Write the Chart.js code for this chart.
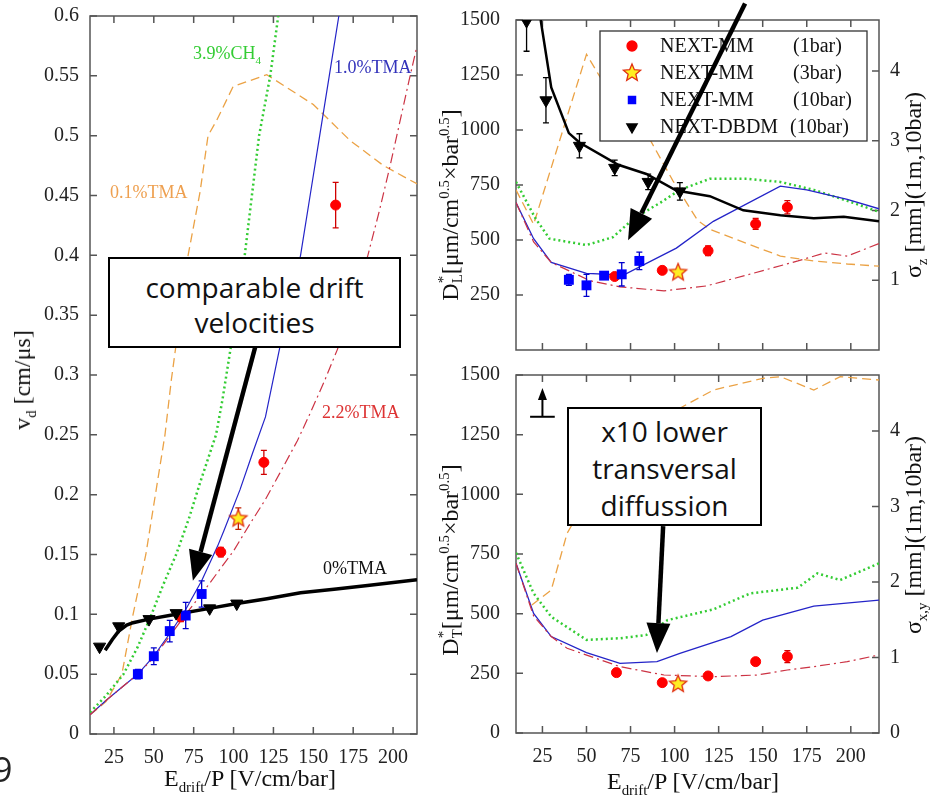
<!DOCTYPE html>
<html>
<head>
<meta charset="utf-8">
<script src="https://cdn.jsdelivr.net/npm/chart.js@4.4.0/dist/chart.umd.min.js"></script>
<style>
  body { margin: 0; background: #fff; }
  #fig { position: relative; width: 934px; height: 804px; overflow: hidden; background: #fff; font-family: "Liberation Serif", serif; color: #111; }
  canvas { position: absolute; }
  .t { position: absolute; white-space: nowrap; line-height: 1; font-size: 18px; }
  .ttl { position: absolute; white-space: nowrap; font-size: 24px; line-height: 1; transform: translate(-50%, -50%); }
  .rot { transform: translate(-50%, -50%) rotate(-90deg); }
  .st { display: inline-block; vertical-align: -0.3em; font-size: 0.62em; line-height: 0.95; }
  .st span { display: block; }
  sub, sup { font-size: 0.62em; line-height: 0; }
  .box { position: absolute; box-sizing: border-box; border: 2px solid #000; background: #fff; font-family: "Open Sans", sans-serif; font-size: 28px; text-align: center; color: #111; }
</style>
</head>
<body>
<div id="fig">
  <canvas id="cv" width="430" height="804" style="left:0;top:0"></canvas>
  <canvas id="cdl" width="504" height="370" style="left:430px;top:0"></canvas>
  <canvas id="cdt" width="504" height="454" style="left:430px;top:350px"></canvas>

  <div class="t" style="left:193px;top:44px;color:#3c3">3.9%CH<sub>4</sub></div>
  <div class="t" style="left:334px;top:58px;color:#33b">1.0%TMA</div>
  <div class="t" style="left:110px;top:183px;color:#eea050">0.1%TMA</div>
  <div class="t" style="left:322px;top:403px;color:#d33">2.2%TMA</div>
  <div class="t" style="left:323px;top:559px;color:#111">0%TMA</div>

  <div class="ttl rot" style="left:22px;top:380px">v<sub>d</sub> [cm/μs]</div>
  <div class="ttl" style="left:250px;top:778px">E<sub>drift</sub>/P [V/cm/bar]</div>
  <div class="ttl" style="left:693px;top:781px">E<sub>drift</sub>/P [V/cm/bar]</div>
  <div class="ttl rot" style="left:450px;top:205px">D<span class="st"><span>*</span><span>L</span></span>[μm/cm<sup>0.5</sup>×bar<sup>0.5</sup>]</div>
  <div class="ttl rot" style="left:450px;top:560px">D<span class="st"><span>*</span><span>T</span></span>[μm/cm<sup>0.5</sup>×bar<sup>0.5</sup>]</div>
  <div class="ttl rot" style="left:913px;top:185px">σ<sub>z</sub> [mm](1m,10bar)</div>
  <div class="ttl rot" style="left:913px;top:535px">σ<sub>x,y</sub> [mm](1m,10bar)</div>

  <div class="box" style="left:108px;top:257px;width:293px;height:91px;padding-top:11px;line-height:35px">comparable drift<br>velocities</div>
  <div class="box" style="left:567px;top:407px;width:195px;height:119px;padding-top:4px;line-height:37px">x10 lower<br>transversal<br>diffussion</div>
  <div style="position:absolute;left:-7px;top:746px;font-family:'Open Sans',sans-serif;font-size:34px;color:#222">9</div>
</div>

<script>
// x axis: reduced drift field E/P [V/cm/bar]
const epTicks = [25, 50, 75, 100, 125, 150, 175, 200];
const vdTicks = [0, 0.05, 0.1, 0.15, 0.2, 0.25, 0.3, 0.35, 0.4, 0.45, 0.5, 0.55, 0.6];
const dTicksTop = [250, 500, 750, 1000, 1250, 1500];
const dTicksBottom = [0, 250, 500, 750, 1000, 1250, 1500];
const sigmaTicksTop = [1, 2, 3, 4];
const sigmaTicksBottom = [0, 1, 2, 3, 4];

// drift velocity [cm/us], simulations
const vdTma01 = [[10,0.016],[20,0.027],[30,0.05],[37,0.1],[45,0.15],[51,0.2],[57,0.25],[61,0.296],[71.5,0.4],[79,0.453],[84,0.5],[89.5,0.513],[99.7,0.541],[120.8,0.551],[150,0.526],[173,0.496],[194,0.475],[216,0.459]];
const vdCh4 = [[10,0.018],[20,0.032],[31,0.05],[40,0.073],[48,0.098],[56,0.125],[64,0.15],[72,0.18],[79,0.21],[89,0.25],[93,0.279],[98,0.321],[107,0.4],[116,0.5],[123,0.55],[128,0.6]];
const vdTma10 = [[10,0.016],[20,0.028],[30,0.039],[40,0.05],[50,0.065],[60,0.084],[70,0.104],[80,0.128],[90,0.157],[94,0.17],[104,0.204],[112,0.235],[120,0.265],[129,0.323],[142,0.4],[148,0.45],[154,0.5],[160,0.55],[166,0.6]];
const vdTma22 = [[10,0.016],[20,0.028],[30,0.039],[40,0.05],[50,0.064],[60,0.082],[70,0.1],[80,0.117],[90,0.135],[100,0.153],[110,0.175],[120,0.196],[129,0.218],[140,0.245],[148,0.268],[157,0.295],[165,0.321],[175,0.358],[184,0.399],[191,0.435],[198,0.474],[204,0.51],[210,0.546],[215,0.575]];
const vdTma00 = [[19.5,0.07],[24,0.079],[28,0.086],[33,0.091],[37,0.093],[47,0.096],[64,0.1],[85,0.105],[102,0.109],[121,0.113],[142,0.118],[163,0.121],[184,0.124],[215,0.129]];
// drift velocity, measurements
const vdMM1 = [[67,0.098],[92,0.152],[119,0.227],[164,0.442]];
const vdMM1Err = [0.004,0.004,0.01,0.019];
const vdMM3 = [[103,0.18]];
const vdMM3Err = [0.009];
const vdMM10 = [[40,0.05],[50,0.065],[60,0.086],[70,0.099],[80,0.117]];
const vdMM10Err = [0.004,0.007,0.009,0.011,0.011];
const vdDBDM = [[16,0.073],[28,0.09],[47,0.096],[64,0.101],[85,0.105],[102,0.109]];

// longitudinal diffusion D*_L [um/cm^0.5 x bar^0.5]
const dlTma01 = [[10,728],[20,571],[35,958],[50,1344],[60,1210],[85,971],[99,770],[113,590],[120,549],[141,484],[160,427],[179,405],[198,391],[216,381]];
const dlCh4 = [[10,764],[21,599],[29,506],[50,477],[65,513],[77,599],[92,670],[103,728],[120,778],[141,778],[160,764],[179,728],[198,678],[216,628]];
const dlTma10 = [[10,670],[20,506],[30,398],[50,348],[71,341],[101,463],[122,585],[160,745],[175,728],[198,685],[216,642]];
const dlTma22 = [[10,670],[20,491],[30,398],[52,315],[69,287],[94,269],[118,291],[141,341],[170,405],[185,441],[198,427],[216,484]];
const dlDBDMsim = [[24,1500],[30,1193],[40,986],[46,943],[68,842],[84,800],[101,725],[120,699],[139,635],[160,613],[179,599],[196,606],[216,585]];
const dlMM1 = [[66,334],[93,362],[119,451],[146,573],[164,649]];
const dlMM1Err = [0,10,22,25,30];
const dlMM3 = [[102,352]];
const dlMM3Err = [12];
const dlMM10 = [[40,319],[50,294],[60,338],[70,344],[80,405]];
const dlMM10Err = [25,50,10,53,40];
const dlDBDM = [[16,1495],[27,1135],[46,928],[66,828],[85,764],[103,721]];
const dlDBDMErr = [137,103,55,35,35,40];

// transverse diffusion D*_T
const dtTma01 = [[19,536],[30,599],[39,837],[50,976],[69,1158],[84,1256],[103,1361],[122,1437],[150,1486],[160,1493],[179,1437],[194,1493],[216,1479]];
const dtCh4 = [[10,755],[20,585],[30,487],[50,390],[69,397],[84,411],[96,473],[122,518],[143,585],[170,609],[181,669],[194,641],[216,711]];
const dtTma10 = [[10,711],[20,501],[30,404],[50,337],[69,292],[90,299],[103,334],[132,404],[150,473],[179,532],[216,557]];
const dtTma22 = [[10,711],[20,490],[30,404],[39,355],[69,278],[94,243],[122,236],[147,243],[164,264],[179,278],[198,299],[216,327]];
const dtMM1 = [[67,253],[93,211],[119,239],[146,299],[164,320]];
const dtMM1Err = [0,0,0,0,25];
const dtMM3 = [[102,205]];
const dtMM3Err = [15];

const legendNames = ['NEXT-MM', 'NEXT-MM', 'NEXT-MM', 'NEXT-DBDM'];
const legendTags = ['(1bar)', '(3bar)', '(10bar)', '(10bar)'];

Chart.defaults.font.family = '"Liberation Serif", serif';
Chart.defaults.color = '#222';

const pts = arr => arr.map(([x, y]) => ({ x, y }));

function starImage(r) {
  const c = document.createElement('canvas');
  const s = Math.ceil(2 * r + 4);
  c.width = c.height = s;
  const g = c.getContext('2d');
  g.beginPath();
  for (let i = 0; i < 10; i++) {
    const rr = i % 2 ? r * 0.45 : r;
    const a = -Math.PI / 2 + i * Math.PI / 5;
    g.lineTo(s / 2 + rr * Math.cos(a), s / 2 + rr * Math.sin(a));
  }
  g.closePath();
  g.fillStyle = '#ffee22';
  g.fill();
  g.strokeStyle = '#e03010';
  g.lineWidth = 1.3;
  g.stroke();
  return c;
}
const starImg = starImage(9);

const ORANGE = '#eba245', GREEN = '#33cc33', BLUE = '#2424c8', RED = '#cc3344';

function curve(label, arr, color, width, dash) {
  return { label, data: pts(arr), showLine: true, borderColor: color, borderWidth: width,
    borderDash: dash || [], pointRadius: 0, pointHoverRadius: 0, fill: false, tension: 0 };
}
function markers(label, arr, errs, style) {
  return Object.assign({ label, data: pts(arr), errors: errs, showLine: false, pointHoverRadius: 0 }, style);
}
const redDot = { pointStyle: 'circle', pointRadius: 5, backgroundColor: '#ff0000', borderColor: '#ff0000', borderWidth: 1, errorColor: '#d00000' };
const starPt = { pointStyle: starImg, pointRadius: 9, backgroundColor: '#ffee22', borderColor: '#e03010', errorColor: '#c02000' };
const blueSq = { pointStyle: 'rect', pointRadius: 7, backgroundColor: '#0000ff', borderColor: '#0000ff', borderWidth: 0, errorColor: '#0000cc' };
const blackTri = { pointStyle: 'triangle', pointRotation: 180, pointRadius: 7, backgroundColor: '#000', borderColor: '#000', borderWidth: 1, errorColor: '#000' };

// box with inward ticks on all four sides
const framePlugin = {
  id: 'frame',
  beforeDatasetsDraw(chart) {
    const { ctx, chartArea: a, scales } = chart;
    const L = 7;
    ctx.save();
    ctx.strokeStyle = '#555';
    ctx.lineWidth = 1.5;
    ctx.strokeRect(a.left, a.top, a.width, a.height);
    ctx.beginPath();
    scales.x.ticks.forEach(t => {
      const p = scales.x.getPixelForValue(t.value);
      ctx.moveTo(p, a.bottom); ctx.lineTo(p, a.bottom - L);
      ctx.moveTo(p, a.top); ctx.lineTo(p, a.top + L);
    });
    scales.y.ticks.forEach(t => {
      const p = scales.y.getPixelForValue(t.value);
      ctx.moveTo(a.left, p); ctx.lineTo(a.left + L, p);
    });
    const yr = scales.y2 || scales.y;
    yr.ticks.forEach(t => {
      const p = yr.getPixelForValue(t.value);
      ctx.moveTo(a.right, p); ctx.lineTo(a.right - L, p);
    });
    ctx.stroke();
    ctx.restore();
  }
};

const errorBarPlugin = {
  id: 'errorBars',
  beforeDatasetDraw(chart, args) {
    const ds = chart.data.datasets[args.index];
    if (!ds.errors) return;
    const { ctx, chartArea: a, scales: { x, y } } = chart;
    ctx.save();
    ctx.beginPath();
    ctx.rect(a.left, a.top, a.width, a.height);
    ctx.clip();
    ctx.strokeStyle = ds.errorColor;
    ctx.lineWidth = 1.3;
    ds.data.forEach((p, i) => {
      const e = ds.errors[i];
      if (!e) return;
      const px = x.getPixelForValue(p.x);
      const hi = y.getPixelForValue(p.y + e), lo = y.getPixelForValue(p.y - e);
      ctx.beginPath();
      ctx.moveTo(px, hi); ctx.lineTo(px, lo);
      ctx.moveTo(px - 3, hi); ctx.lineTo(px + 3, hi);
      ctx.moveTo(px - 3, lo); ctx.lineTo(px + 3, lo);
      ctx.stroke();
    });
    ctx.restore();
  }
};

function drawArrow(ctx, x0, y0, x1, y1, w, hl, hw) {
  const ang = Math.atan2(y1 - y0, x1 - x0);
  const bx = x1 - hl * Math.cos(ang), by = y1 - hl * Math.sin(ang);
  ctx.lineWidth = w;
  ctx.beginPath(); ctx.moveTo(x0, y0); ctx.lineTo(bx, by); ctx.stroke();
  ctx.beginPath();
  ctx.moveTo(x1, y1);
  ctx.lineTo(bx + hw / 2 * Math.sin(ang), by - hw / 2 * Math.cos(ang));
  ctx.lineTo(bx - hw / 2 * Math.sin(ang), by + hw / 2 * Math.cos(ang));
  ctx.closePath();
  ctx.fill();
}

// annotation arrows, given in data coordinates
function arrowPlugin(items) {
  return {
    id: 'arrows',
    afterDraw(chart) {
      const { ctx, scales: { x, y } } = chart;
      ctx.save();
      ctx.strokeStyle = '#000';
      ctx.fillStyle = '#000';
      items.forEach(it => {
        const x0 = x.getPixelForValue(it.from[0]), y0 = y.getPixelForValue(it.from[1]);
        const x1 = x.getPixelForValue(it.to[0]), y1 = y.getPixelForValue(it.to[1]);
        drawArrow(ctx, x0, y0, x1, y1, it.w, it.hl, it.hw);
        if (it.bar) {
          ctx.lineWidth = it.w;
          ctx.beginPath();
          ctx.moveTo(x.getPixelForValue(it.bar[0]), y0);
          ctx.lineTo(x.getPixelForValue(it.bar[1]), y0);
          ctx.stroke();
        }
      });
      ctx.restore();
    }
  };
}

const boxLegendPlugin = {
  id: 'boxLegend',
  afterDatasetsDraw(chart) {
    const { ctx, chartArea: a } = chart;
    const bx = a.left + 84, by = a.top + 11, bw = 267, bh = 110;
    ctx.save();
    ctx.fillStyle = '#fff';
    ctx.fillRect(bx, by, bw, bh);
    ctx.strokeStyle = '#333';
    ctx.lineWidth = 1.3;
    ctx.strokeRect(bx, by, bw, bh);
    ctx.font = '20px "Liberation Serif", serif';
    ctx.textBaseline = 'middle';
    chart.data.datasets.filter(d => d.legendRow !== undefined).forEach(ds => {
      const i = ds.legendRow;
      const cy = by + 15 + i * 27;
      ctx.fillStyle = ds.backgroundColor;
      ctx.strokeStyle = ds.borderColor;
      const r = ds.pointStyle === 'circle' ? 5 : 6;
      Chart.helpers.drawPoint(ctx, { pointStyle: ds.pointStyle, radius: r, rotation: ds.pointRotation || 0, borderWidth: ds.borderWidth || 0 }, bx + 32, cy);
      ctx.fillStyle = '#111';
      ctx.fillText(legendNames[i], bx + 60, cy + 1);
      ctx.fillText(legendTags[i], bx + (i === 3 ? 190 : 193), cy + 1);
    });
    ctx.restore();
  }
};

function xScale(max, showLabels, height) {
  return {
    type: 'linear', min: 10, max,
    grid: { display: false }, border: { display: false },
    afterBuildTicks: s => { s.ticks = epTicks.map(v => ({ value: v })); },
    ticks: { display: showLabels, padding: 4, autoSkip: false, maxRotation: 0, font: { size: 20 } },
    afterFit: s => { s.height = height; }
  };
}
function yScale(position, max, ticks, width, pad) {
  return {
    type: 'linear', position, min: 0, max,
    grid: { display: false }, border: { display: false },
    afterBuildTicks: s => { s.ticks = ticks.map(v => ({ value: v })); },
    ticks: { padding: pad, autoSkip: false, font: { size: 20 }, callback: v => String(v) },
    afterFit: s => { s.width = width; }
  };
}
function options(padding, scales) {
  return {
    responsive: false, animation: false, events: [],
    layout: { padding },
    plugins: { legend: { display: false }, tooltip: { enabled: false } },
    scales
  };
}

// left panel: drift velocity
new Chart(document.getElementById('cv'), {
  type: 'scatter',
  data: {
    datasets: [
      markers('NEXT-DBDM (10bar)', vdDBDM, null, blackTri),
      markers('NEXT-MM (10bar)', vdMM10, vdMM10Err, blueSq),
      markers('NEXT-MM (3bar)', vdMM3, vdMM3Err, starPt),
      markers('NEXT-MM (1bar)', vdMM1, vdMM1Err, redDot),
      curve('0%TMA', vdTma00, '#000', 3.5),
      curve('2.2%TMA', vdTma22, RED, 1.2, [10, 4, 2, 4]),
      curve('1.0%TMA', vdTma10, BLUE, 1.2),
      curve('3.9%CH4', vdCh4, GREEN, 2.5, [2, 3]),
      curve('0.1%TMA', vdTma01, ORANGE, 1.3, [9, 5])
    ]
  },
  options: options({ top: 16, right: 13, bottom: 0, left: 0 }, {
    x: xScale(215, true, 70),
    y: yScale('left', 0.6, vdTicks, 90, 3)
  }),
  plugins: [framePlugin, errorBarPlugin,
    arrowPlugin([{ from: [113.5, 0.323], to: [74.5, 0.128], w: 4.5, hl: 30, hw: 24 }])]
});

// top right: longitudinal diffusion
new Chart(document.getElementById('cdl'), {
  type: 'scatter',
  data: {
    datasets: [
      Object.assign(markers('NEXT-DBDM (10bar)', dlDBDM, dlDBDMErr, blackTri), { legendRow: 3 }),
      Object.assign(markers('NEXT-MM (10bar)', dlMM10, dlMM10Err, blueSq), { legendRow: 2 }),
      Object.assign(markers('NEXT-MM (3bar)', dlMM3, dlMM3Err, starPt), { legendRow: 1 }),
      Object.assign(markers('NEXT-MM (1bar)', dlMM1, dlMM1Err, redDot), { legendRow: 0 }),
      curve('DBDM sim', dlDBDMsim, '#000', 2.5),
      curve('2.2%TMA', dlTma22, RED, 1.2, [10, 4, 2, 4]),
      curve('1.0%TMA', dlTma10, BLUE, 1.3),
      curve('3.9%CH4', dlCh4, GREEN, 2.5, [2, 3]),
      curve('0.1%TMA', dlTma01, ORANGE, 1.3, [9, 5])
    ]
  },
  options: options({ top: 17, right: 0, bottom: 0, left: 0 }, {
    x: xScale(216, false, 3),
    y: yScale('left', 1500, dTicksTop, 86, 8),
    y2: yScale('right', 4.73, sigmaTicksTop, 55, 3)
  }),
  plugins: [framePlugin, errorBarPlugin, boxLegendPlugin,
    arrowPlugin([{ from: [140, 1575], to: [73.6, 499], w: 4.5, hl: 30, hw: 24 }])]
});

// bottom right: transverse diffusion
new Chart(document.getElementById('cdt'), {
  type: 'scatter',
  data: {
    datasets: [
      markers('NEXT-MM (3bar)', dtMM3, dtMM3Err, starPt),
      markers('NEXT-MM (1bar)', dtMM1, dtMM1Err, redDot),
      curve('2.2%TMA', dtTma22, RED, 1.2, [10, 4, 2, 4]),
      curve('1.0%TMA', dtTma10, BLUE, 1.3),
      curve('3.9%CH4', dtCh4, GREEN, 2.5, [2, 3]),
      curve('0.1%TMA', dtTma01, ORANGE, 1.3, [9, 5])
    ]
  },
  options: options({ top: 25, right: 0, bottom: 0, left: 0 }, {
    x: xScale(216, true, 71),
    y: yScale('left', 1500, dTicksBottom, 86, 8),
    y2: yScale('right', 4.74, sigmaTicksBottom, 55, 3)
  }),
  plugins: [framePlugin, errorBarPlugin,
    arrowPlugin([
      { from: [93.5, 867], to: [90, 335], w: 4.5, hl: 30, hw: 24 },
      { from: [25, 1325], to: [25, 1446], w: 2, hl: 12, hw: 9, bar: [18, 32] }
    ])]
});
</script>
</body>
</html>
